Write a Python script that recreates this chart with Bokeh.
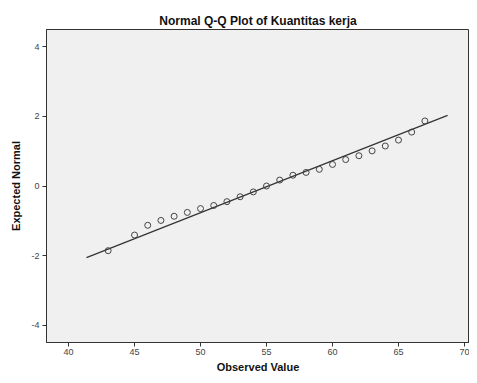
from bokeh.plotting import figure
from bokeh.models import Range1d, FixedTicker, PrintfTickFormatter
from bokeh.embed import file_html
from bokeh.resources import INLINE

# Data
observed = [43, 45, 46, 47, 48, 49, 50, 51, 52, 53, 54, 55,
            56, 57, 58, 59, 60, 61, 62, 63, 64, 65, 66, 67]
expected = [-1.86, -1.41, -1.13, -0.99, -0.87, -0.76, -0.65, -0.56, -0.45, -0.31, -0.17, 0.0,
            0.17, 0.31, 0.39, 0.48, 0.62, 0.76, 0.87, 1.01, 1.15, 1.32, 1.55, 1.87]
line_x = [41.36, 68.72]
line_y = [-2.06, 2.03]
x_ticks = [40, 45, 50, 55, 60, 65, 70]
y_ticks = [-4, -2, 0, 2, 4]

FONT = "Liberation Sans"
DARK = "#333333"

p = figure(width=469, height=375, output_backend="svg", toolbar_location=None,
           x_range=Range1d(38.33, 70.38), y_range=Range1d(-4.5, 4.5),
           min_border_left=46, min_border_right=0, min_border_top=29, min_border_bottom=30)

p.title.text = "Normal Q-Q Plot of Kuantitas kerja"
p.title.text_font = FONT
p.title.text_font_size = "12px"
p.title.text_font_style = "bold"
p.title.text_color = "#111111"
p.title.align = "center"
p.title.offset = -10
p.title.standoff = 3

p.background_fill_color = "#f0f0f0"
p.border_fill_color = "white"
p.outline_line_color = DARK
p.outline_line_width = 1
p.xgrid.visible = False
p.ygrid.visible = False

for ax, ticks, label in ((p.xaxis[0], x_ticks, "Observed Value"), (p.yaxis[0], y_ticks, "Expected Normal")):
    ax.ticker = FixedTicker(ticks=ticks)
    ax.formatter = PrintfTickFormatter(format="%d")
    ax.axis_label = label
    ax.axis_label_text_font = FONT
    ax.axis_label_text_font_size = "11px"
    ax.axis_label_text_font_style = "bold"
    ax.axis_label_text_color = "#111111"
    ax.major_label_text_font = FONT
    ax.major_label_text_font_size = "9px"
    ax.major_label_text_color = "#444444"
    ax.axis_line_color = DARK
    ax.major_tick_line_color = DARK
    ax.major_tick_in = 0
    ax.major_tick_out = 4
    ax.minor_tick_line_color = None

p.xaxis[0].major_label_standoff = 2
p.xaxis[0].axis_label_standoff = 3
p.yaxis[0].major_label_standoff = 3
p.yaxis[0].axis_label_standoff = 6

p.line(line_x, line_y, line_color=DARK, line_width=1.2)
p.scatter(observed, expected, marker="circle", size=6, fill_color=None,
          line_color="#444444", line_width=1)

open("out.html", "w").write(file_html(p, INLINE))
